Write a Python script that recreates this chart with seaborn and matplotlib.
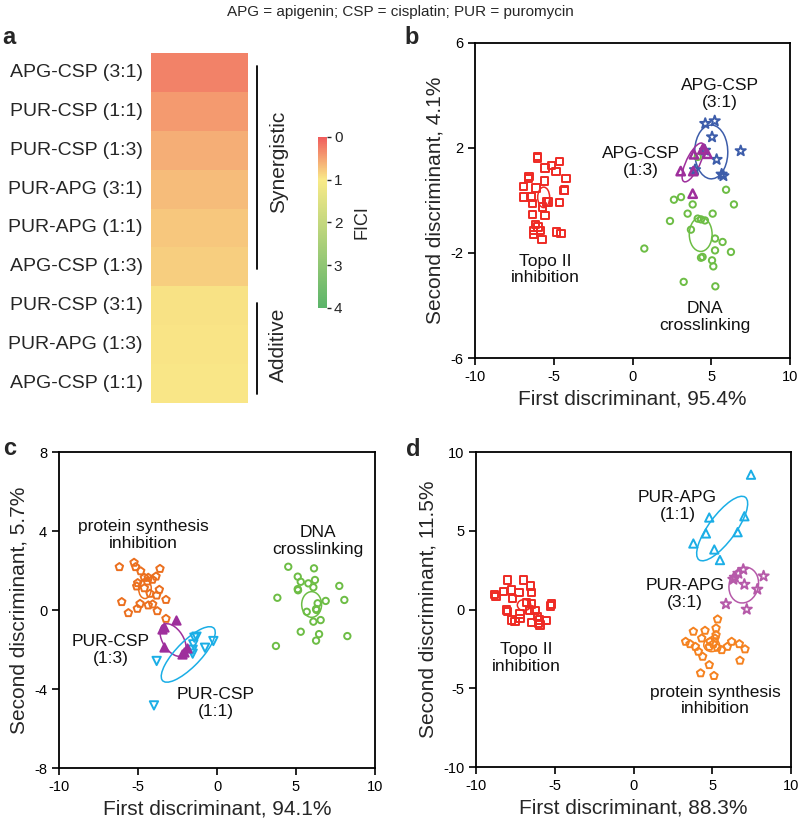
import matplotlib
matplotlib.use("Agg")
import matplotlib.pyplot as plt
import matplotlib.transforms as mtransforms
import numpy as np
import pandas as pd
import seaborn as sns
from matplotlib.colors import LinearSegmentedColormap
from matplotlib.patches import Ellipse


# ---- panel a: FICI heatmap ----
COMBOS = [
    "APG-CSP (3:1)",
    "PUR-CSP (1:1)",
    "PUR-CSP (1:3)",
    "PUR-APG (3:1)",
    "PUR-APG (1:1)",
    "APG-CSP (1:3)",
    "PUR-CSP (3:1)",
    "PUR-APG (1:3)",
    "APG-CSP (1:1)",
]
FICI = [0.28, 0.45, 0.58, 0.68, 0.76, 0.80, 0.94, 0.96, 0.97]
FICI_TICKS = [0, 1, 2, 3, 4]

# ---- panel b: APG-CSP discriminant scores ----
B_TOPO = [(-6.04, 1.68), (-6.02, 1.62), (-4.65, 1.50), (-5.13, 1.33), (-5.56, 1.24),
          (-4.86, 1.09), (-6.57, 0.92), (-6.60, 0.85), (-4.22, 0.84), (-5.60, 0.74),
          (-6.93, 0.54), (-6.13, 0.48), (-4.35, 0.37), (-4.33, 0.40), (-6.89, 0.13),
          (-6.44, 0.13), (-6.34, -0.10), (-5.34, -0.06), (-5.45, -0.06), (-4.65, -0.07),
          (-5.70, -0.25), (-6.36, -0.53), (-5.56, -0.58), (-6.17, -0.90), (-6.00, -1.01),
          (-6.30, -1.15), (-5.83, -1.14), (-6.30, -1.31), (-5.75, -1.50), (-4.82, -1.20),
          (-4.54, -1.26)]
B_APG_CSP_31 = [(4.62, 2.93), (5.22, 3.03), (5.05, 2.42), (6.87, 1.89), (5.34, 1.56),
                (3.97, 1.17), (5.66, 1.00), (5.77, 0.94), (4.60, 1.91)]
B_APG_CSP_13 = [(3.90, 1.76), (4.54, 1.97), (4.75, 1.78), (3.06, 1.12), (3.86, 1.12),
                (3.82, 0.26), (4.45, 1.95)]
B_DNA = [(5.94, 0.41), (2.63, 0.03), (3.08, 0.13), (6.44, -0.15), (3.82, -0.15),
         (3.50, -0.50), (5.09, -0.50), (4.14, -0.69), (4.35, -0.72), (4.60, -0.76),
         (2.38, -0.78), (3.71, -1.11), (5.24, -1.45), (5.72, -1.58), (0.75, -1.83),
         (5.24, -1.90), (6.25, -1.96), (4.35, -2.18), (4.45, -2.15), (5.05, -2.28),
         (5.13, -2.51), (3.25, -3.10), (5.26, -3.27), (4.14, 1.66)]
# ellipses: centre x, centre y, width, height, angle
B_ELLIPSES = {
    "topo": (-5.64, 0.12, 0.76, 0.78, 0),
    "apg_csp_31": (5.0, 1.85, 2.1, 2.05, -5),
    "apg_csp_13": (3.85, 1.45, 1.9, 0.75, 47),
    "dna": (4.33, -1.29, 1.45, 1.3, 0),
}
B_LABELS = [("APG-CSP\n(3:1)", 5.56, 4.07), ("APG-CSP\n(1:3)", 0.54, 1.47),
            ("Topo II\ninhibition", -5.56, -2.63), ("DNA\ncrosslinking", 4.60, -4.44)]

# ---- panel c: PUR-CSP discriminant scores ----
C_PROT = [(-6.18, 2.18), (-5.25, 2.40), (-5.15, 2.18), (-4.83, 1.97), (-3.61, 2.09),
          (-3.86, 1.70), (-4.60, 1.64), (-4.35, 1.64), (-4.09, 1.54), (-5.02, 1.37),
          (-5.08, 1.20), (-4.60, 1.11), (-3.65, 1.03), (-4.24, 0.83), (-3.82, 0.74),
          (-3.23, 0.52), (-6.03, 0.41), (-5.61, -0.15), (-4.87, 0.32), (-5.04, 0.07),
          (-4.35, 0.24), (-4.07, 0.29), (-3.78, -0.05), (-3.23, -0.44), (-4.41, 1.45)]
C_PUR_CSP_13 = [(-2.59, -0.52), (-3.46, -0.95), (-3.33, -0.85), (-3.33, -1.87),
                (-2.24, -2.21), (-2.10, -2.15), (-1.90, -1.90)]
C_PUR_CSP_11 = [(-1.43, -1.40), (-1.50, -1.74), (-1.54, -2.01), (-1.54, -2.21),
                (-0.76, -1.91), (-0.23, -1.57), (-3.82, -2.58), (-3.99, -4.83),
                (-1.30, -1.35)]
C_DNA = [(4.51, 2.19), (6.14, 2.11), (5.11, 1.69), (5.30, 1.43), (5.78, 1.35),
         (6.20, 1.52), (6.10, 1.15), (7.74, 1.22), (5.11, 1.06), (5.13, 1.00),
         (3.82, 0.62), (8.06, 0.51), (6.88, 0.46), (6.37, 0.34), (6.27, 0.05),
         (6.30, 0.00), (5.68, -0.09), (6.56, -0.51), (6.10, -0.59), (5.30, -1.10),
         (6.46, -1.22), (6.27, -1.55), (8.25, -1.32), (3.73, -1.82)]
C_ELLIPSES = {
    "prot": (-4.56, 1.08, 0.8, 1.0, 0),
    "pur_csp_13": (-2.78, -1.52, 2.0, 1.2, -45),
    "pur_csp_11": (-1.82, -2.25, 4.2, 1.4, 38),
    "dna": (5.99, 0.28, 1.26, 1.3, 0),
}
C_LABELS = [("protein synthesis\ninhibition", -4.66, 3.78), ("DNA\ncrosslinking", 6.41, 3.48),
            ("PUR-CSP\n(1:3)", -6.71, -2.04), ("PUR-CSP\n(1:1)", -0.06, -4.69)]

# ---- panel d: PUR-APG discriminant scores ----
D_TOPO = [(-8.84, 0.96), (-8.73, 0.81), (-8.26, 1.13), (-7.99, 1.87), (-7.74, 1.24),
          (-7.00, 1.87), (-6.53, 1.49), (-6.47, 1.09), (-7.27, 1.07), (-7.67, 0.71),
          (-8.05, -0.03), (-8.00, -0.14), (-7.74, -0.67), (-7.52, -0.77), (-7.21, -0.56),
          (-6.78, 0.43), (-6.47, 0.35), (-6.61, -0.03), (-6.25, -0.07), (-6.08, -0.45),
          (-5.98, -0.67), (-5.51, -0.71), (-5.94, -0.98), (-6.47, -0.81), (-5.20, 0.35),
          (-5.26, 0.22), (-7.21, -0.28), (-6.05, -0.90)]
D_PUR_APG_11 = [(7.46, 8.56), (4.81, 5.84), (7.04, 5.92), (4.60, 4.83), (6.61, 4.91),
                (3.80, 4.19), (5.13, 3.81), (5.49, 3.14)]
D_PUR_APG_31 = [(6.44, 2.04), (6.66, 2.29), (6.97, 2.54), (7.04, 1.59), (8.26, 2.12),
                (7.86, 1.28), (5.87, 0.35), (7.19, 0.01), (6.34, 1.91)]
D_PROT = [(5.34, -0.62), (5.24, -1.19), (4.54, -1.34), (3.80, -1.40), (3.31, -2.04),
          (3.59, -2.19), (4.33, -1.83), (5.17, -1.83), (4.12, -2.67), (4.39, -2.99),
          (4.81, -2.36), (5.07, -2.19), (5.32, -2.42), (5.60, -2.57), (6.23, -2.04),
          (5.96, -2.36), (6.72, -2.19), (7.08, -2.52), (6.76, -3.24), (4.81, -3.52),
          (4.26, -4.04), (5.11, -4.21), (5.24, -1.62), (3.93, -2.36), (4.86, -2.04)]
D_ELLIPSES = {
    "topo": (-6.95, 0.28, 0.85, 0.7, 0),
    "pur_apg_11": (5.63, 5.14, 4.94, 1.7, 53.5),
    "pur_apg_31": (7.0, 1.55, 1.85, 2.3, -15),
    "prot": (4.96, -2.25, 1.0, 0.85, 0),
}
D_LABELS = [("PUR-APG\n(1:1)", 2.80, 6.58), ("PUR-APG\n(3:1)", 3.27, 0.98),
            ("Topo II\ninhibition", -6.78, -3.09),
            ("protein synthesis\ninhibition", 5.17, -5.78)]

RED = "#EE2A24"
BLUE = "#3D5DAA"
PURPLE = "#9E2F9C"
GREEN = "#6DBD45"
ORANGE_C = "#EB6F1E"
ORANGE_D = "#F58220"
CYAN = "#1BAEE6"
MAGENTA = "#B65AA9"

sns.set_theme(style="white")
plt.rcParams["font.family"] = ["Liberation Sans", "DejaVu Sans"]
plt.rcParams["axes.unicode_minus"] = False


def draw_group(ax, pts, marker, color, size, filled=False, lw=1.4):
    df = pd.DataFrame(pts, columns=["x", "y"])
    sns.scatterplot(data=df, x="x", y="y", marker=marker, s=size, color=color,
                    facecolors=color if filled else "none", edgecolor=color,
                    linewidth=lw, ax=ax, legend=False, zorder=3)


def draw_ellipse(ax, params, color):
    cx, cy, w, h, ang = params
    ax.add_patch(Ellipse((cx, cy), w, h, angle=ang, fill=False,
                         edgecolor=color, lw=1.1, zorder=2))


def add_labels(ax, labels):
    for text, x, y in labels:
        ax.text(x, y, text, ha="center", va="center", fontsize=12.5,
                linespacing=1.15, color="#111111")


def style_axes(ax, ylim, yticks, xlabel, ylabel):
    ax.set_xlim(-10, 10)
    ax.set_ylim(*ylim)
    ax.set_xticks([-10, -5, 0, 5, 10])
    ax.set_yticks(yticks)
    ax.set_xlabel(xlabel, fontsize=15, labelpad=4)
    ax.set_ylabel(ylabel, fontsize=15, labelpad=4)
    for sp in ax.spines.values():
        sp.set_linewidth(1.3)
        sp.set_color("black")
    ax.tick_params(direction="out", length=5, width=1.2, labelsize=10.5,
                   colors="black", bottom=True, left=True, top=False, right=False)
    ax.grid(False)


fig = plt.figure(figsize=(8, 8.25), dpi=100)
fig.text(0.5, 1 - 12 / 825, "APG = apigenin; CSP = cisplatin; PUR = puromycin",
         ha="center", va="center", fontsize=11)

# panel a
ax_a = fig.add_axes([0.18875, 0.51152, 0.12125, 0.42424])
cax = fig.add_axes([0.3975, 0.62667, 0.01125, 0.20727])
fici_cmap = LinearSegmentedColormap.from_list(
    "fici", [(0.0, "#F05C5C"), (0.25, "#F9EA88"), (1.0, "#5BB46A")])
heat_df = pd.DataFrame({"FICI": FICI}, index=COMBOS)
sns.heatmap(heat_df, ax=ax_a, cmap=fici_cmap, vmin=0, vmax=4, cbar_ax=cax,
            xticklabels=False, yticklabels=True, linewidths=0)
ax_a.set_ylabel("")
ax_a.tick_params(axis="y", length=0, pad=6, labelsize=14, rotation=0)
cbar = ax_a.collections[0].colorbar
cbar.ax.invert_yaxis()
cbar.set_ticks(FICI_TICKS)
cbar.outline.set_visible(False)
cbar.ax.tick_params(length=3, width=1, labelsize=11, pad=2)
cbar.set_label("FICI", fontsize=13, labelpad=8)

blend = mtransforms.blended_transform_factory(ax_a.transAxes, ax_a.transData)
ax_a.plot([1.093, 1.093], [0.33, 5.55], color="black", lw=1.3,
          transform=blend, clip_on=False)
ax_a.plot([1.093, 1.093], [6.43, 8.77], color="black", lw=1.3,
          transform=blend, clip_on=False)
ax_a.text(1.31, 2.8, "Synergistic", rotation=90, ha="center", va="center",
          fontsize=15, transform=blend)
ax_a.text(1.31, 7.5, "Additive", rotation=90, ha="center", va="center",
          fontsize=15, transform=blend)

# panel b
ax_b = fig.add_axes([0.59375, 0.56606, 0.39375, 0.38182])
draw_group(ax_b, B_TOPO, "s", RED, 27)
draw_group(ax_b, B_DNA, "o", GREEN, 21)
draw_group(ax_b, B_APG_CSP_31, "*", BLUE, 60)
draw_group(ax_b, B_APG_CSP_13, "^", PURPLE, 36, lw=1.8)
draw_ellipse(ax_b, B_ELLIPSES["topo"], RED)
draw_ellipse(ax_b, B_ELLIPSES["apg_csp_31"], BLUE)
draw_ellipse(ax_b, B_ELLIPSES["apg_csp_13"], PURPLE)
draw_ellipse(ax_b, B_ELLIPSES["dna"], GREEN)
add_labels(ax_b, B_LABELS)
style_axes(ax_b, (-6, 6), [-6, -2, 2, 6],
           "First discriminant, 95.4%", "Second discriminant, 4.1%")

# panel c
ax_c = fig.add_axes([0.07375, 0.06909, 0.395, 0.383])
draw_group(ax_c, C_PROT, "p", ORANGE_C, 32)
draw_group(ax_c, C_DNA, "o", GREEN, 21)
draw_group(ax_c, C_PUR_CSP_11, "v", CYAN, 36)
draw_group(ax_c, C_PUR_CSP_13, "^", PURPLE, 36, filled=True)
draw_ellipse(ax_c, C_ELLIPSES["prot"], ORANGE_C)
draw_ellipse(ax_c, C_ELLIPSES["pur_csp_13"], PURPLE)
draw_ellipse(ax_c, C_ELLIPSES["pur_csp_11"], CYAN)
draw_ellipse(ax_c, C_ELLIPSES["dna"], GREEN)
add_labels(ax_c, C_LABELS)
style_axes(ax_c, (-8, 8), [-8, -4, 0, 4, 8],
           "First discriminant, 94.1%", "Second discriminant, 5.7%")

# panel d
ax_d = fig.add_axes([0.595, 0.0703, 0.39375, 0.38182])
draw_group(ax_d, D_TOPO, "s", RED, 27)
draw_group(ax_d, D_PROT, "p", ORANGE_D, 32)
draw_group(ax_d, D_PUR_APG_11, "^", CYAN, 36)
draw_group(ax_d, D_PUR_APG_31, "*", MAGENTA, 60)
draw_ellipse(ax_d, D_ELLIPSES["topo"], RED)
draw_ellipse(ax_d, D_ELLIPSES["pur_apg_11"], CYAN)
draw_ellipse(ax_d, D_ELLIPSES["pur_apg_31"], MAGENTA)
draw_ellipse(ax_d, D_ELLIPSES["prot"], ORANGE_D)
add_labels(ax_d, D_LABELS)
style_axes(ax_d, (-10, 10), [-10, -5, 0, 5, 10],
           "First discriminant, 88.3%", "Second discriminant, 11.5%")

# panel letters
for letter, px, py in [("a", 2, 38), ("b", 404, 38), ("c", 3, 448), ("d", 406, 450)]:
    fig.text(px / 800, 1 - py / 825, letter, fontsize=17, fontweight="bold",
             ha="left", va="center")

fig.savefig("out.png", dpi=100)
